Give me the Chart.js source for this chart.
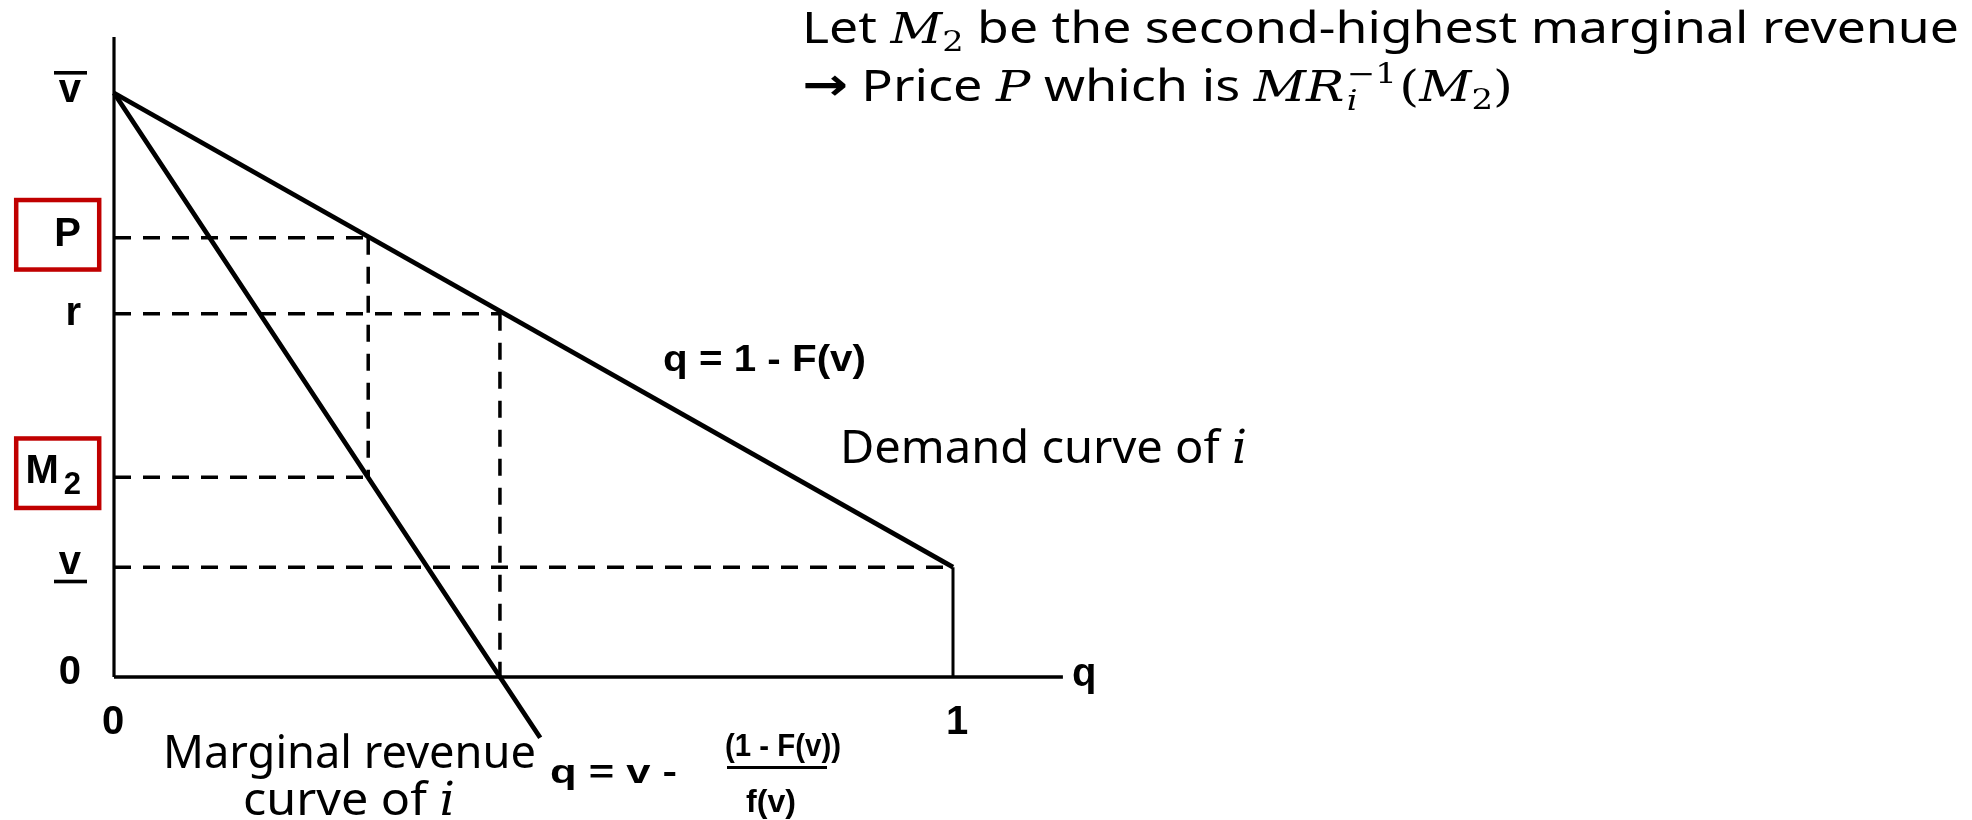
<!DOCTYPE html>
<html>
<head>
<meta charset="utf-8">
<script src="https://cdn.jsdelivr.net/npm/chart.js@4.4.1/dist/chart.umd.min.js"></script>
<style>
  html, body { margin: 0; padding: 0; background: #ffffff; }
  #wrap { width: 1972px; height: 820px; position: relative; }
</style>
</head>
<body>
<div id="wrap"><canvas id="c" width="1972" height="820"></canvas></div>
<script>
// ---- Data ----
const levelNames  = ['vbar', 'P', 'r', 'M2', 'vlow', 'zero'];
const levelValues = [1.0, 0.752, 0.622, 0.342, 0.188, 0];
const xTickValues = [0, 1];
const xTickLabels = ['0', '1'];
const demandQ = [0, 1];
const demandV = [1.0, 0.188];
const mrQ = [0, 0.46, 0.508];
const mrV = [1.0, 0, -0.104];
const priceQ = 0.303;     // q where demand = P (and MR = M2)
const reserveQ = 0.46;    // q where demand = r (and MR = 0)
const yAxisTop = 1.096;
const xAxisEnd = 1.131;

const L = Object.fromEntries(levelNames.map((n, i) => [n, levelValues[i]]));

function pts(xs, ys) { return xs.map((x, i) => ({ x: x, y: ys[i] })); }

const solid = (data, w) => ({ data, showLine: true, borderColor: '#000', borderWidth: w, pointRadius: 0, fill: false, borderCapStyle: 'butt', borderJoinStyle: 'miter' });
const dashed = (data) => ({ data, showLine: true, borderColor: '#000', borderWidth: 3.5, borderDash: [17, 12], pointRadius: 0, fill: false, borderCapStyle: 'butt' });

const datasets = [
  // axes
  solid(pts([0, 0], [0, yAxisTop]), 3.2),
  solid(pts([0, xAxisEnd], [0, 0]), 3.4),
  // demand and its drop at q = 1
  solid(pts(demandQ, demandV), 4.8),
  solid(pts([demandQ[1], demandQ[1]], [demandV[1], 0]), 3),
  // marginal revenue
  solid(pts(mrQ, mrV), 4.8),
  // dashed guides
  dashed(pts([0, priceQ], [L.P, L.P])),
  dashed(pts([priceQ, priceQ], [L.P, L.M2])),
  dashed(pts([0, priceQ], [L.M2, L.M2])),
  dashed(pts([0, reserveQ], [L.r, L.r])),
  dashed(pts([reserveQ, reserveQ], [L.r, 0])),
  dashed(pts([0, demandQ[1]], [L.vlow, L.vlow]))
];

// rich text helper: segments {t, f, dy, over, gap}
function layoutRich(ctx, segs) {
  let cx = 0, prevStart = 0, prevW = 0;
  const items = [];
  for (const s of segs) {
    ctx.font = s.f;
    const w = ctx.measureText(s.t).width;
    let start;
    if (s.over) {
      start = prevStart;
      prevW = Math.max(prevW, w);
      cx = prevStart + prevW;
    } else {
      start = cx + (s.gap || 0);
      cx = start + w;
      prevStart = start; prevW = w;
    }
    items.push({ s, start });
  }
  return { items, width: cx };
}
function drawRich(ctx, x, y, segs, targetW, kForce) {
  const lay = layoutRich(ctx, segs);
  const k = kForce || (targetW ? targetW / lay.width : 1);
  ctx.save();
  ctx.translate(x, y);
  ctx.scale(k, 1);
  ctx.textAlign = 'left';
  ctx.textBaseline = 'alphabetic';
  ctx.fillStyle = '#000';
  for (const it of lay.items) {
    ctx.font = it.s.f;
    ctx.fillText(it.s.t, it.start, it.s.dy || 0);
  }
  ctx.restore();
  return k;
}

const SANS = '"Noto Sans", "Open Sans", sans-serif';
const MATH = '"DejaVu Serif", "Liberation Serif", serif';
const BOLD = 'bold 40px "Liberation Sans", Arial, sans-serif';

const annotate = {
  id: 'annotate',
  afterDatasetsDraw(chart) {
    const ctx = chart.ctx;
    const xs = chart.scales.x, ys = chart.scales.y;
    const X = v => xs.getPixelForValue(v);
    const Y = v => ys.getPixelForValue(v);
    ctx.save();
    ctx.fillStyle = '#000';
    ctx.textBaseline = 'alphabetic';

    // ---- y tick labels ----
    const rx = X(0) - 33;
    ctx.font = BOLD; ctx.textAlign = 'right';
    // v bar
    let py = Y(L.vbar);
    ctx.fillText('v', rx, py + 9);
    ctx.fillRect(rx - 27, py - 22, 33, 3.6);
    // P
    py = Y(L.P);
    ctx.fillText('P', rx, py + 8);
    ctx.strokeStyle = '#C00000'; ctx.lineWidth = 4.5;
    ctx.strokeRect(16.2, py - 37.8, 83, 69.5);
    // r
    py = Y(L.r);
    ctx.fillText('r', rx, py + 11);
    // M2
    py = Y(L.M2);
    ctx.font = 'bold 31px "Liberation Sans", Arial, sans-serif';
    const w2 = ctx.measureText('2').width;
    ctx.fillText('2', rx, py + 17);
    ctx.font = BOLD;
    ctx.fillText('M', rx - w2 - 5, py + 6);
    ctx.strokeRect(16.2, py - 38.8, 83, 69.5);
    // v underline
    py = Y(L.vlow);
    ctx.fillText('v', rx, py + 7);
    ctx.fillRect(rx - 27, py + 12.5, 33, 3.6);
    // zero
    py = Y(L.zero);
    ctx.fillText('0', rx, py + 7);

    // ---- x tick labels ----
    ctx.textAlign = 'center';
    xTickValues.forEach((v, i) => ctx.fillText(xTickLabels[i], X(v) + (v === 1 ? 4 : -1), Y(0) + 57));
    ctx.textAlign = 'left';
    ctx.fillText('q', X(xAxisEnd) + 9, Y(0) + 9);

    // ---- curve formulas (bold) ----
    drawRich(ctx, 663, 371, [{ t: 'q = 1 - F(v)', f: 'bold 36px "Liberation Sans", Arial, sans-serif' }], 203);
    drawRich(ctx, 550, 783, [{ t: 'q = v -', f: 'bold 33px "Liberation Sans", Arial, sans-serif' }], 127);
    drawRich(ctx, 725, 756, [{ t: '(1 - F(v))', f: 'bold 32px "Liberation Sans", Arial, sans-serif' }], 116);
    ctx.fillRect(727, 766, 100, 3);
    drawRich(ctx, 746, 812, [{ t: 'f(v)', f: 'bold 32px "Liberation Sans", Arial, sans-serif' }], 50);

    // ---- descriptive labels ----
    const nf = '46px ' + SANS;
    const mf = 'italic 46px ' + MATH;
    drawRich(ctx, 840, 463, [{ t: 'Demand curve of ', f: nf }, { t: 'i', f: mf }], 407);
    drawRich(ctx, 163, 768, [{ t: 'Marginal revenue', f: nf }], 373);
    drawRich(ctx, 243, 815, [{ t: 'curve of ', f: nf }, { t: 'i', f: mf }], 212);

    // ---- top explanation ----
    const tf = '43px ' + SANS;
    const tm = 'italic 42px ' + MATH;
    const ts = '28px ' + MATH;
    const tsi = 'italic 28px ' + MATH;
    drawRich(ctx, 802, 43, [
      { t: 'Let ', f: tf },
      { t: 'M', f: tm },
      { t: '2', f: ts, dy: 8 },
      { t: ' be the second-highest marginal revenue', f: tf }
    ], 1157);
    drawRich(ctx, 802, 101, [
      { t: '\u2192', f: 'bold 45px "DejaVu Sans", sans-serif', dy: -1 },
      { t: ' Price ', f: tf },
      { t: 'P', f: tm },
      { t: ' which is ', f: tf },
      { t: 'MR', f: tm },
      { t: '\u22121', f: ts, dy: -18, gap: 2 },
      { t: 'i', f: tsi, dy: 9, over: true },
      { t: '(', f: '42px ' + MATH, gap: 2 },
      { t: 'M', f: tm },
      { t: '2', f: ts, dy: 8 },
      { t: ')', f: '42px ' + MATH }
    ], 711);

    ctx.restore();
  }
};

const pxL = 114, pxPerQ = 839, pyZero = 677, pyPerV = 584;
new Chart(document.getElementById('c'), {
  type: 'scatter',
  data: { datasets },
  options: {
    responsive: false,
    animation: false,
    devicePixelRatio: 1,
    layout: { padding: 0 },
    plugins: { legend: { display: false }, tooltip: { enabled: false }, title: { display: false } },
    scales: {
      x: { type: 'linear', display: false, min: -pxL / pxPerQ, max: (1972 - pxL) / pxPerQ },
      y: { type: 'linear', display: false, min: -(820 - pyZero) / pyPerV, max: pyZero / pyPerV }
    },
    elements: { point: { radius: 0 } }
  },
  plugins: [annotate]
});
</script>
</body>
</html>
